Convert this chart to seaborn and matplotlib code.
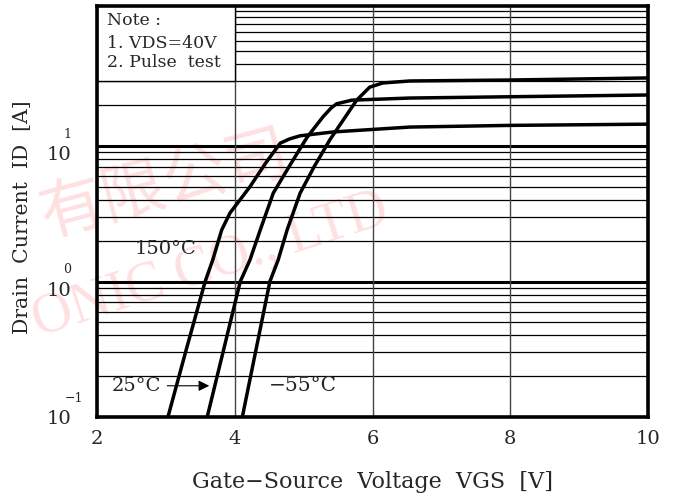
"""Transfer characteristics chart: drain current vs gate-source voltage."""

import matplotlib
matplotlib.use("Agg")
import matplotlib.pyplot as plt
from matplotlib.patches import Rectangle
import seaborn as sns
import pandas as pd

# curve data (VGS [V], ID [A])
vgs_150 = [3.03, 3.30, 3.57, 3.68, 3.81, 3.93, 4.22, 4.45, 4.66, 4.80, 4.95, 5.43, 6.54, 8.0, 10.0]
id_150 = [0.1, 0.32, 1.0, 1.44, 2.4, 3.2, 5.0, 7.5, 10.5, 11.3, 11.9, 12.7, 13.8, 14.2, 14.5]

vgs_25 = [3.60, 4.08, 4.22, 4.37, 4.56, 4.80, 5.05, 5.28, 5.40, 5.48, 5.70, 6.54, 8.0, 10.0]
id_25 = [0.1, 1.0, 1.44, 2.4, 4.5, 7.2, 11.6, 16.4, 19.1, 20.5, 21.8, 22.6, 23.1, 23.8]

vgs_m55 = [4.11, 4.51, 4.63, 4.76, 4.95, 5.15, 5.38, 5.77, 5.96, 6.15, 6.54, 8.0, 10.0]
id_m55 = [0.1, 1.0, 1.44, 2.4, 4.5, 7.0, 11.1, 21.8, 27.2, 29.2, 30.2, 30.7, 31.8]

x_ticks = [2, 4, 6, 8, 10]
y_decades = [0.1, 1, 10]
y_exponents = ['\u22121', '0', '1']

df = pd.concat([
    pd.DataFrame({'vgs': vgs_150, 'id': id_150, 'temp': '150'}),
    pd.DataFrame({'vgs': vgs_25, 'id': id_25, 'temp': '25'}),
    pd.DataFrame({'vgs': vgs_m55, 'id': id_m55, 'temp': '-55'}),
])

sns.set_style("white")
plt.rcParams['font.family'] = ['DejaVu Serif']
plt.rcParams['axes.unicode_minus'] = True

fig = plt.figure(figsize=(6.81, 4.98), dpi=100)
ax = fig.add_axes([97 / 681, 1 - 417 / 498, 551 / 681, 411 / 498])

ax.set_yscale('log')
ax.set_xlim(2, 10)
ax.set_ylim(0.1, 108)

# grid: heavy decade lines, thin minor lines, thin verticals
for dec in [1, 10]:
    ax.axhline(dec, color='black', lw=2.2, zorder=1)
for dec in [0.1, 1, 10]:
    for m in range(2, 10):
        ax.axhline(dec * m, color='black', lw=0.9, zorder=1)
ax.axhline(100, color='black', lw=0.9, zorder=1)
for xv in [4, 6, 8]:
    ax.axvline(xv, color='#444444', lw=1.0, zorder=1)

# note box covering the grid in the upper left
ax.add_patch(Rectangle((2, 30), 2, 80, facecolor='white', edgecolor='black',
                       lw=1.0, zorder=2))
ax.text(2.15, 84, 'Note :', fontsize=12.5, va='center', zorder=3)
ax.text(2.15, 57, '1. VDS=40V', fontsize=12.5, va='center', zorder=3)
ax.text(2.15, 41.5, '2. Pulse  test', fontsize=12.5, va='center', zorder=3)

sns.lineplot(data=df, x='vgs', y='id', units='temp', estimator=None,
             sort=False, color='black', lw=2.5, ax=ax, zorder=4)

# curve labels
ax.text(2.55, 1.75, '150°C', fontsize=14, va='center')
ax.text(2.22, 0.17, '25°C', fontsize=14, va='center')
ax.annotate('', xy=(3.67, 0.17), xytext=(2.98, 0.17),
            arrowprops=dict(arrowstyle='-|>', color='black', lw=0.8,
                            mutation_scale=16))
ax.text(4.5, 0.17, '\u221255°C', fontsize=14.5, va='center')

# ticks
ax.set_xticks(x_ticks)
ax.set_xticklabels([str(t) for t in x_ticks], fontsize=14)
ax.set_yticks([])
ax.minorticks_off()
ax.tick_params(axis='x', length=0, pad=9)
offsets = [-2, -9, -9]
for val, exp, off in zip(y_decades, y_exponents, offsets):
    ax.annotate('10', xy=(0, val), xycoords=('axes fraction', 'data'),
                xytext=(-26, off), textcoords='offset pixels',
                ha='right', va='center', fontsize=14)
    ax.annotate(exp, xy=(0, val), xycoords=('axes fraction', 'data'),
                xytext=(-30 + (7 if exp.startswith('\u2212') else 0), off + 21),
                textcoords='offset pixels', ha='center',
                va='center', fontsize=9)

ax.set_xlabel('Gate\u2212Source  Voltage  VGS  [V]', fontsize=16, labelpad=17)
ax.set_ylabel('Drain  Current  ID  [A]', fontsize=14.7)
ax.yaxis.set_label_coords(-0.118, 0.487)

for side in ['left', 'right', 'top', 'bottom']:
    ax.spines[side].set_visible(True)
    ax.spines[side].set_color('black')
    ax.spines[side].set_linewidth(2.6)
    ax.spines[side].set_zorder(5)

# faint watermark of the original document
ax.text(165 / 681, 1 - 185 / 498, '有限公司', transform=fig.transFigure,
        family=['Noto Sans CJK SC'], fontsize=46, color='#ffe0e0',
        rotation=15, ha='center', va='center', zorder=0.2, clip_on=False)
ax.text(210 / 681, 1 - 265 / 498, 'ONIC CO., LTD', transform=fig.transFigure,
        family=['Liberation Serif'], fontsize=40, color='#ffe0e0',
        rotation=18, ha='center', va='center', zorder=0.2, clip_on=False)

fig.savefig('out.png', dpi=100)
plt.close(fig)
